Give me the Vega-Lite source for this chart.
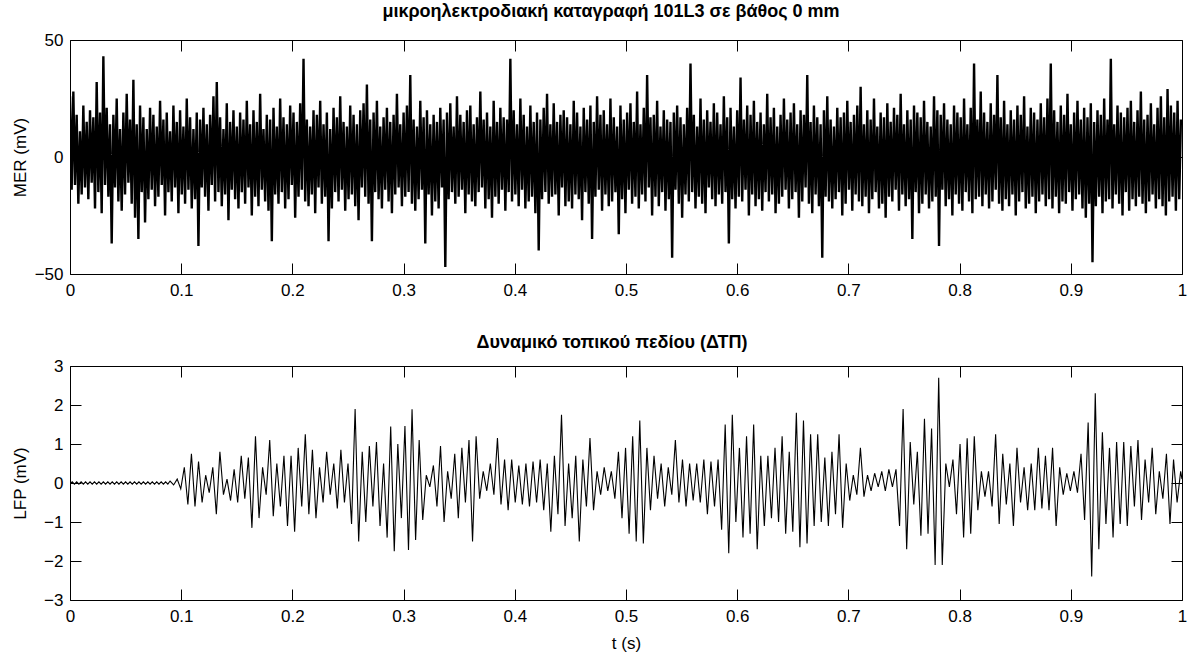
{
  "$schema": "https://vega.github.io/schema/vega-lite/v6.json",
  "background": "white",
  "padding": {"left": 10, "top": 2, "right": 0, "bottom": 0},
  "spacing": 34,
  "config": {
    "font": "Liberation Sans",
    "view": {"stroke": "black", "strokeWidth": 1},
    "axis": {"grid": false, "domain": false, "ticks": true, "tickSize": 11, "offset": -11, "zindex": 2, "tickColor": "black", "tickWidth": 1, "tickOpacity": 1, "tickCap": "butt",
      "labelColor": "black", "labelFont": "Liberation Sans", "labelFontSize": 17, "labelFlush": false, "labelOverlap": false, "labelPadding": 7,
      "titleFont": "Liberation Sans", "titleFontSize": 17, "titleFontWeight": "normal", "titleColor": "black"},
    "axisX": {"labelPadding": 8, "titlePadding": 11},
    "title": {"font": "Liberation Sans", "fontSize": 18, "fontWeight": "bold", "color": "black", "anchor": "middle"}
  },
  "datasets": {
    "mer": [
{"t":0,"v":26},{"t":1.5,"v":-14},{"t":3,"v":28},{"t":4.5,"v":-12},{"t":6,"v":18},{"t":7.5,"v":-20},{"t":9,"v":11},{"t":10.5,"v":-16},{"t":12,"v":22},{"t":13.5,"v":-13},
{"t":15,"v":15},{"t":16.5,"v":-18},{"t":18,"v":20},{"t":19.5,"v":-11},{"t":21,"v":17},{"t":22.5,"v":-22},{"t":24,"v":32},{"t":25.5,"v":-15},{"t":27,"v":19},{"t":28.5,"v":-24},
{"t":30,"v":43},{"t":31.5,"v":-12},{"t":33,"v":21},{"t":34.5,"v":-17},{"t":36,"v":14},{"t":37.5,"v":-37},{"t":39,"v":18},{"t":40.5,"v":-13},{"t":42,"v":25},{"t":43.5,"v":-19},
{"t":45,"v":12},{"t":46.5,"v":-23},{"t":48,"v":19},{"t":49.5,"v":-16},{"t":51,"v":27},{"t":52.5,"v":-11},{"t":54,"v":16},{"t":55.5,"v":-20},{"t":57,"v":33},{"t":58.5,"v":-26},
{"t":60,"v":14},{"t":61.5,"v":-35},{"t":63,"v":22},{"t":64.5,"v":-15},{"t":66,"v":17},{"t":67.5,"v":-28},{"t":69,"v":12},{"t":70.5,"v":-18},{"t":72,"v":21},{"t":73.5,"v":-14},
{"t":75,"v":18},{"t":76.5,"v":-21},{"t":78,"v":13},{"t":79.5,"v":-17},{"t":81,"v":24},{"t":82.5,"v":-12},{"t":84,"v":16},{"t":85.5,"v":-25},{"t":87,"v":19},{"t":88.5,"v":-15},
{"t":90,"v":11},{"t":91.5,"v":-19},{"t":93,"v":22},{"t":94.5,"v":-13},{"t":96,"v":15},{"t":97.5,"v":-24},{"t":99,"v":20},{"t":100.5,"v":-16},{"t":102,"v":13},{"t":103.5,"v":-20},
{"t":105,"v":25},{"t":106.5,"v":-14},{"t":108,"v":17},{"t":109.5,"v":-22},{"t":111,"v":12},{"t":112.5,"v":-18},{"t":114,"v":19},{"t":115.5,"v":-38},{"t":117,"v":16},{"t":118.5,"v":-13},
{"t":120,"v":21},{"t":121.5,"v":-17},{"t":123,"v":14},{"t":124.5,"v":-23},{"t":126,"v":18},{"t":127.5,"v":-12},{"t":129,"v":26},{"t":130.5,"v":-19},{"t":132,"v":32},{"t":133.5,"v":-15},
{"t":135,"v":17},{"t":136.5,"v":-21},{"t":138,"v":12},{"t":139.5,"v":-16},{"t":141,"v":23},{"t":142.5,"v":-27},{"t":144,"v":15},{"t":145.5,"v":-14},{"t":147,"v":20},{"t":148.5,"v":-18},
{"t":150,"v":13},{"t":151.5,"v":-22},{"t":153,"v":19},{"t":154.5,"v":-15},{"t":156,"v":16},{"t":157.5,"v":-20},{"t":159,"v":24},{"t":160.5,"v":-13},{"t":162,"v":14},{"t":163.5,"v":-25},
{"t":165,"v":20},{"t":166.5,"v":-17},{"t":168,"v":15},{"t":169.5,"v":-21},{"t":171,"v":27},{"t":172.5,"v":-14},{"t":174,"v":12},{"t":175.5,"v":-19},{"t":177,"v":18},{"t":178.5,"v":-23},
{"t":180,"v":16},{"t":181.5,"v":-36},{"t":183,"v":21},{"t":184.5,"v":-16},{"t":186,"v":13},{"t":187.5,"v":-20},{"t":189,"v":25},{"t":190.5,"v":-15},{"t":192,"v":17},{"t":193.5,"v":-22},
{"t":195,"v":14},{"t":196.5,"v":-18},{"t":198,"v":22},{"t":199.5,"v":-12},{"t":201,"v":19},{"t":202.5,"v":-26},{"t":204,"v":15},{"t":205.5,"v":-17},{"t":207,"v":23},{"t":208.5,"v":-14},
{"t":210,"v":42},{"t":211.5,"v":-19},{"t":213,"v":16},{"t":214.5,"v":-21},{"t":216,"v":13},{"t":217.5,"v":-16},{"t":219,"v":20},{"t":220.5,"v":-24},{"t":222,"v":18},{"t":223.5,"v":-13},
{"t":225,"v":24},{"t":226.5,"v":-20},{"t":228,"v":14},{"t":229.5,"v":-17},{"t":231,"v":19},{"t":232.5,"v":-36},{"t":234,"v":12},{"t":235.5,"v":-22},{"t":237,"v":21},{"t":238.5,"v":-15},
{"t":240,"v":17},{"t":241.5,"v":-19},{"t":243,"v":26},{"t":244.5,"v":-14},{"t":246,"v":15},{"t":247.5,"v":-23},{"t":249,"v":13},{"t":250.5,"v":-18},{"t":252,"v":22},{"t":253.5,"v":-16},
{"t":255,"v":18},{"t":256.5,"v":-21},{"t":258,"v":14},{"t":259.5,"v":-27},{"t":261,"v":20},{"t":262.5,"v":-13},{"t":264,"v":23},{"t":265.5,"v":-17},{"t":267,"v":31},{"t":268.5,"v":-20},
{"t":270,"v":16},{"t":271.5,"v":-36},{"t":273,"v":19},{"t":274.5,"v":-15},{"t":276,"v":24},{"t":277.5,"v":-18},{"t":279,"v":13},{"t":280.5,"v":-22},{"t":282,"v":17},{"t":283.5,"v":-14},
{"t":285,"v":21},{"t":286.5,"v":-19},{"t":288,"v":15},{"t":289.5,"v":-24},{"t":291,"v":18},{"t":292.5,"v":-16},{"t":294,"v":27},{"t":295.5,"v":-13},{"t":297,"v":14},{"t":298.5,"v":-21},
{"t":300,"v":19},{"t":301.5,"v":-17},{"t":303,"v":22},{"t":304.5,"v":-15},{"t":306,"v":35},{"t":307.5,"v":-20},{"t":309,"v":16},{"t":310.5,"v":-23},{"t":312,"v":13},{"t":313.5,"v":-18},
{"t":315,"v":24},{"t":316.5,"v":-14},{"t":318,"v":17},{"t":319.5,"v":-37},{"t":321,"v":20},{"t":322.5,"v":-16},{"t":324,"v":14},{"t":325.5,"v":-25},{"t":327,"v":18},{"t":328.5,"v":-19},
{"t":330,"v":15},{"t":331.5,"v":-22},{"t":333,"v":21},{"t":334.5,"v":-13},{"t":336,"v":16},{"t":337.5,"v":-47},{"t":339,"v":19},{"t":340.5,"v":-18},{"t":342,"v":23},{"t":343.5,"v":-15},
{"t":345,"v":13},{"t":346.5,"v":-20},{"t":348,"v":26},{"t":349.5,"v":-17},{"t":351,"v":18},{"t":352.5,"v":-14},{"t":354,"v":15},{"t":355.5,"v":-24},{"t":357,"v":20},{"t":358.5,"v":-16},
{"t":360,"v":22},{"t":361.5,"v":-19},{"t":363,"v":14},{"t":364.5,"v":-21},{"t":366,"v":17},{"t":367.5,"v":-15},{"t":369,"v":28},{"t":370.5,"v":-13},{"t":372,"v":16},{"t":373.5,"v":-22},
{"t":375,"v":19},{"t":376.5,"v":-18},{"t":378,"v":13},{"t":379.5,"v":-26},{"t":381,"v":24},{"t":382.5,"v":-17},{"t":384,"v":15},{"t":385.5,"v":-20},{"t":387,"v":21},{"t":388.5,"v":-14},
{"t":390,"v":17},{"t":391.5,"v":-23},{"t":393,"v":16},{"t":394.5,"v":-15},{"t":396,"v":42},{"t":397.5,"v":-19},{"t":399,"v":20},{"t":400.5,"v":-16},{"t":402,"v":14},{"t":403.5,"v":-21},
{"t":405,"v":25},{"t":406.5,"v":-14},{"t":408,"v":18},{"t":409.5,"v":-22},{"t":411,"v":13},{"t":412.5,"v":-19},{"t":414,"v":22},{"t":415.5,"v":-17},{"t":417,"v":15},{"t":418.5,"v":-24},
{"t":420,"v":19},{"t":421.5,"v":-40},{"t":423,"v":16},{"t":424.5,"v":-18},{"t":426,"v":21},{"t":427.5,"v":-15},{"t":429,"v":27},{"t":430.5,"v":-20},{"t":432,"v":14},{"t":433.5,"v":-17},
{"t":435,"v":23},{"t":436.5,"v":-16},{"t":438,"v":15},{"t":439.5,"v":-25},{"t":441,"v":18},{"t":442.5,"v":-13},{"t":444,"v":20},{"t":445.5,"v":-21},{"t":447,"v":17},{"t":448.5,"v":-19},
{"t":450,"v":14},{"t":451.5,"v":-22},{"t":453,"v":24},{"t":454.5,"v":-16},{"t":456,"v":19},{"t":457.5,"v":-18},{"t":459,"v":13},{"t":460.5,"v":-27},{"t":462,"v":21},{"t":463.5,"v":-15},
{"t":465,"v":16},{"t":466.5,"v":-20},{"t":468,"v":22},{"t":469.5,"v":-35},{"t":471,"v":15},{"t":472.5,"v":-17},{"t":474,"v":26},{"t":475.5,"v":-14},{"t":477,"v":18},{"t":478.5,"v":-23},
{"t":480,"v":20},{"t":481.5,"v":-16},{"t":483,"v":14},{"t":484.5,"v":-21},{"t":486,"v":25},{"t":487.5,"v":-19},{"t":489,"v":17},{"t":490.5,"v":-15},{"t":492,"v":13},{"t":493.5,"v":-33},
{"t":495,"v":22},{"t":496.5,"v":-18},{"t":498,"v":16},{"t":499.5,"v":-24},{"t":501,"v":19},{"t":502.5,"v":-14},{"t":504,"v":23},{"t":505.5,"v":-20},{"t":507,"v":15},{"t":508.5,"v":-17},
{"t":510,"v":28},{"t":511.5,"v":-22},{"t":513,"v":14},{"t":514.5,"v":-16},{"t":516,"v":21},{"t":517.5,"v":-19},{"t":519,"v":35},{"t":520.5,"v":-13},{"t":522,"v":17},{"t":523.5,"v":-25},
{"t":525,"v":18},{"t":526.5,"v":-17},{"t":528,"v":24},{"t":529.5,"v":-21},{"t":531,"v":13},{"t":532.5,"v":-15},{"t":534,"v":20},{"t":535.5,"v":-23},{"t":537,"v":16},{"t":538.5,"v":-18},
{"t":540,"v":15},{"t":541.5,"v":-43},{"t":543,"v":19},{"t":544.5,"v":-14},{"t":546,"v":22},{"t":547.5,"v":-20},{"t":549,"v":17},{"t":550.5,"v":-26},{"t":552,"v":14},{"t":553.5,"v":-16},
{"t":555,"v":21},{"t":556.5,"v":-19},{"t":558,"v":40},{"t":559.5,"v":-15},{"t":561,"v":18},{"t":562.5,"v":-22},{"t":564,"v":13},{"t":565.5,"v":-17},{"t":567,"v":25},{"t":568.5,"v":-20},
{"t":570,"v":16},{"t":571.5,"v":-24},{"t":573,"v":20},{"t":574.5,"v":-13},{"t":576,"v":15},{"t":577.5,"v":-18},{"t":579,"v":23},{"t":580.5,"v":-21},{"t":582,"v":19},{"t":583.5,"v":-16},
{"t":585,"v":14},{"t":586.5,"v":-20},{"t":588,"v":26},{"t":589.5,"v":-15},{"t":591,"v":17},{"t":592.5,"v":-37},{"t":594,"v":21},{"t":595.5,"v":-18},{"t":597,"v":13},{"t":598.5,"v":-22},
{"t":600,"v":20},{"t":601.5,"v":-17},{"t":603,"v":34},{"t":604.5,"v":-19},{"t":606,"v":16},{"t":607.5,"v":-14},{"t":609,"v":22},{"t":610.5,"v":-25},{"t":612,"v":18},{"t":613.5,"v":-16},
{"t":615,"v":24},{"t":616.5,"v":-21},{"t":618,"v":15},{"t":619.5,"v":-18},{"t":621,"v":19},{"t":622.5,"v":-23},{"t":624,"v":14},{"t":625.5,"v":-15},{"t":627,"v":27},{"t":628.5,"v":-19},
{"t":630,"v":17},{"t":631.5,"v":-16},{"t":633,"v":21},{"t":634.5,"v":-24},{"t":636,"v":13},{"t":637.5,"v":-20},{"t":639,"v":18},{"t":640.5,"v":-17},{"t":642,"v":25},{"t":643.5,"v":-14},
{"t":645,"v":16},{"t":646.5,"v":-22},{"t":648,"v":19},{"t":649.5,"v":-18},{"t":651,"v":23},{"t":652.5,"v":-15},{"t":654,"v":14},{"t":655.5,"v":-26},{"t":657,"v":20},{"t":658.5,"v":-19},
{"t":660,"v":18},{"t":661.5,"v":-13},{"t":663,"v":35},{"t":664.5,"v":-20},{"t":666,"v":15},{"t":667.5,"v":-24},{"t":669,"v":22},{"t":670.5,"v":-16},{"t":672,"v":17},{"t":673.5,"v":-21},
{"t":675,"v":14},{"t":676.5,"v":-43},{"t":678,"v":20},{"t":679.5,"v":-17},{"t":681,"v":26},{"t":682.5,"v":-19},{"t":684,"v":16},{"t":685.5,"v":-22},{"t":687,"v":13},{"t":688.5,"v":-18},
{"t":690,"v":21},{"t":691.5,"v":-15},{"t":693,"v":17},{"t":694.5,"v":-25},{"t":696,"v":19},{"t":697.5,"v":-20},{"t":699,"v":24},{"t":700.5,"v":-14},{"t":702,"v":15},{"t":703.5,"v":-23},
{"t":705,"v":18},{"t":706.5,"v":-16},{"t":708,"v":22},{"t":709.5,"v":-19},{"t":711,"v":30},{"t":712.5,"v":-21},{"t":714,"v":14},{"t":715.5,"v":-17},{"t":717,"v":20},{"t":718.5,"v":-24},
{"t":720,"v":16},{"t":721.5,"v":-18},{"t":723,"v":25},{"t":724.5,"v":-15},{"t":726,"v":13},{"t":727.5,"v":-22},{"t":729,"v":19},{"t":730.5,"v":-20},{"t":732,"v":17},{"t":733.5,"v":-26},
{"t":735,"v":23},{"t":736.5,"v":-17},{"t":738,"v":15},{"t":739.5,"v":-19},{"t":741,"v":21},{"t":742.5,"v":-14},{"t":744,"v":18},{"t":745.5,"v":-23},{"t":747,"v":27},{"t":748.5,"v":-16},
{"t":750,"v":14},{"t":751.5,"v":-21},{"t":753,"v":20},{"t":754.5,"v":-18},{"t":756,"v":16},{"t":757.5,"v":-35},{"t":759,"v":22},{"t":760.5,"v":-15},{"t":762,"v":19},{"t":763.5,"v":-24},
{"t":765,"v":17},{"t":766.5,"v":-20},{"t":768,"v":24},{"t":769.5,"v":-16},{"t":771,"v":15},{"t":772.5,"v":-22},{"t":774,"v":13},{"t":775.5,"v":-19},{"t":777,"v":26},{"t":778.5,"v":-17},
{"t":780,"v":20},{"t":781.5,"v":-38},{"t":783,"v":18},{"t":784.5,"v":-14},{"t":786,"v":23},{"t":787.5,"v":-21},{"t":789,"v":16},{"t":790.5,"v":-18},{"t":792,"v":14},{"t":793.5,"v":-25},
{"t":795,"v":22},{"t":796.5,"v":-16},{"t":798,"v":19},{"t":799.5,"v":-20},{"t":801,"v":17},{"t":802.5,"v":-23},{"t":804,"v":25},{"t":805.5,"v":-15},{"t":807,"v":14},{"t":808.5,"v":-19},
{"t":810,"v":21},{"t":811.5,"v":-24},{"t":813,"v":40},{"t":814.5,"v":-18},{"t":816,"v":16},{"t":817.5,"v":-17},{"t":819,"v":28},{"t":820.5,"v":-21},{"t":822,"v":19},{"t":823.5,"v":-16},
{"t":825,"v":15},{"t":826.5,"v":-22},{"t":828,"v":23},{"t":829.5,"v":-19},{"t":831,"v":18},{"t":832.5,"v":-14},{"t":834,"v":35},{"t":835.5,"v":-20},{"t":837,"v":17},{"t":838.5,"v":-23},
{"t":840,"v":24},{"t":841.5,"v":-18},{"t":843,"v":14},{"t":844.5,"v":-21},{"t":846,"v":20},{"t":847.5,"v":-16},{"t":849,"v":16},{"t":850.5,"v":-25},{"t":852,"v":22},{"t":853.5,"v":-19},
{"t":855,"v":18},{"t":856.5,"v":-15},{"t":858,"v":26},{"t":859.5,"v":-22},{"t":861,"v":13},{"t":862.5,"v":-20},{"t":864,"v":21},{"t":865.5,"v":-17},{"t":867,"v":19},{"t":868.5,"v":-24},
{"t":870,"v":16},{"t":871.5,"v":-19},{"t":873,"v":23},{"t":874.5,"v":-16},{"t":876,"v":17},{"t":877.5,"v":-21},{"t":879,"v":25},{"t":880.5,"v":-18},{"t":882,"v":40},{"t":883.5,"v":-22},
{"t":885,"v":20},{"t":886.5,"v":-17},{"t":888,"v":15},{"t":889.5,"v":-24},{"t":891,"v":22},{"t":892.5,"v":-19},{"t":894,"v":18},{"t":895.5,"v":-20},{"t":897,"v":27},{"t":898.5,"v":-15},
{"t":900,"v":14},{"t":901.5,"v":-23},{"t":903,"v":19},{"t":904.5,"v":-18},{"t":906,"v":24},{"t":907.5,"v":-16},{"t":909,"v":16},{"t":910.5,"v":-22},{"t":912,"v":21},{"t":913.5,"v":-26},
{"t":915,"v":17},{"t":916.5,"v":-20},{"t":918,"v":23},{"t":919.5,"v":-45},{"t":921,"v":15},{"t":922.5,"v":-21},{"t":924,"v":20},{"t":925.5,"v":-17},{"t":927,"v":18},{"t":928.5,"v":-24},
{"t":930,"v":25},{"t":931.5,"v":-19},{"t":933,"v":16},{"t":934.5,"v":-18},{"t":936,"v":42},{"t":937.5,"v":-22},{"t":939,"v":14},{"t":940.5,"v":-16},{"t":942,"v":22},{"t":943.5,"v":-20},
{"t":945,"v":19},{"t":946.5,"v":-25},{"t":948,"v":17},{"t":949.5,"v":-15},{"t":951,"v":21},{"t":952.5,"v":-23},{"t":954,"v":24},{"t":955.5,"v":-18},{"t":957,"v":15},{"t":958.5,"v":-21},
{"t":960,"v":20},{"t":961.5,"v":-17},{"t":963,"v":28},{"t":964.5,"v":-20},{"t":966,"v":16},{"t":967.5,"v":-24},{"t":969,"v":18},{"t":970.5,"v":-19},{"t":972,"v":23},{"t":973.5,"v":-16},
{"t":975,"v":14},{"t":976.5,"v":-22},{"t":978,"v":21},{"t":979.5,"v":-18},{"t":981,"v":26},{"t":982.5,"v":-21},{"t":984,"v":17},{"t":985.5,"v":-25},{"t":987,"v":29},{"t":988.5,"v":-19},
{"t":990,"v":22},{"t":991.5,"v":-17},{"t":993,"v":19},{"t":994.5,"v":-23},{"t":996,"v":24},{"t":997.5,"v":-18},{"t":999,"v":16}
    ],
    "lfp": [
{"t":0,"v":-0.02},{"t":2,"v":0.03},{"t":4,"v":-0.03},{"t":6,"v":0.03},{"t":8,"v":-0.03},{"t":10,"v":0.03},{"t":12,"v":-0.03},{"t":14,"v":0.03},{"t":16,"v":-0.03},{"t":18,"v":0.03},
{"t":20,"v":-0.03},{"t":22,"v":0.03},{"t":24,"v":-0.03},{"t":26,"v":0.03},{"t":28,"v":-0.03},{"t":30,"v":0.03},{"t":32,"v":-0.03},{"t":34,"v":0.03},{"t":36,"v":-0.03},{"t":38,"v":0.03},
{"t":40,"v":-0.03},{"t":42,"v":0.03},{"t":44,"v":-0.03},{"t":46,"v":0.03},{"t":48,"v":-0.03},{"t":50,"v":0.03},{"t":52,"v":-0.03},{"t":54,"v":0.03},{"t":56,"v":-0.03},{"t":58,"v":0.03},
{"t":60,"v":-0.03},{"t":62,"v":0.03},{"t":64,"v":-0.03},{"t":66,"v":0.03},{"t":68,"v":-0.03},{"t":70,"v":0.03},{"t":72,"v":-0.03},{"t":74,"v":0.03},{"t":76,"v":-0.03},{"t":78,"v":0.03},
{"t":80,"v":-0.03},{"t":82,"v":0.03},{"t":84,"v":-0.03},{"t":86,"v":0.03},{"t":88,"v":-0.03},
{"t":90,"v":0.05},{"t":93.2,"v":-0.05},{"t":96.4,"v":0.1},{"t":99.6,"v":-0.15},{"t":102.8,"v":0.4},
{"t":106,"v":-0.55},{"t":109.2,"v":0.75},{"t":112.4,"v":-0.6},{"t":115.6,"v":0.55},{"t":118.8,"v":-0.5},
{"t":122,"v":0.2},{"t":125.2,"v":-0.25},{"t":128.4,"v":0.4},{"t":131.6,"v":-0.8},{"t":134.8,"v":0.8},
{"t":138,"v":-0.3},{"t":141.2,"v":0.1},{"t":144.4,"v":-0.45},{"t":147.6,"v":0.35},{"t":150.8,"v":-0.5},
{"t":154,"v":0.7},{"t":157.2,"v":-0.4},{"t":160.4,"v":0.65},{"t":163.6,"v":-1.15},{"t":166.8,"v":1.2},
{"t":170,"v":-0.9},{"t":173.2,"v":0.4},{"t":176.4,"v":-0.3},{"t":179.6,"v":1.1},{"t":182.8,"v":-0.85},
{"t":186,"v":0.5},{"t":189.2,"v":-0.6},{"t":192.4,"v":0.7},{"t":195.6,"v":-1.1},{"t":198.8,"v":0.7},
{"t":202,"v":-1.25},{"t":205.2,"v":0.9},{"t":208.4,"v":-0.6},{"t":211.6,"v":1.25},{"t":214.8,"v":-0.8},
{"t":218,"v":0.85},{"t":221.2,"v":-0.9},{"t":224.4,"v":0.4},{"t":227.6,"v":-0.5},{"t":230.8,"v":0.8},
{"t":234,"v":-0.3},{"t":237.2,"v":0.5},{"t":240.4,"v":-0.65},{"t":243.6,"v":0.85},{"t":246.8,"v":-0.5},
{"t":250,"v":0.5},{"t":253.2,"v":-1.05},{"t":256.4,"v":1.9},{"t":259.6,"v":-1.5},{"t":262.8,"v":0.8},
{"t":266,"v":-1.0},{"t":269.2,"v":0.95},{"t":272.4,"v":-0.6},{"t":275.6,"v":1.05},{"t":278.8,"v":-1.1},
{"t":282,"v":0.5},{"t":285.2,"v":-1.4},{"t":288.4,"v":1.45},{"t":291.6,"v":-1.75},{"t":294.8,"v":1.0},
{"t":298,"v":-0.9},{"t":301.2,"v":1.46},{"t":304.4,"v":-1.72},{"t":307.6,"v":1.89},{"t":310.8,"v":-1.46},
{"t":314,"v":1.1},{"t":317.2,"v":-0.95},{"t":320.4,"v":0.2},{"t":323.6,"v":-0.1},{"t":326.8,"v":0.45},
{"t":330,"v":-0.6},{"t":333.2,"v":0.95},{"t":336.4,"v":-1.0},{"t":339.6,"v":0.3},{"t":342.8,"v":-0.4},
{"t":346,"v":0.75},{"t":349.2,"v":-0.9},{"t":352.4,"v":0.9},{"t":355.6,"v":-0.5},{"t":358.8,"v":1.1},
{"t":362,"v":-1.5},{"t":365.2,"v":1.2},{"t":368.4,"v":-0.4},{"t":371.6,"v":0.3},{"t":374.8,"v":-0.2},
{"t":378,"v":0.5},{"t":381.2,"v":-0.3},{"t":384.4,"v":1.15},{"t":387.6,"v":-0.55},{"t":390.8,"v":0.6},
{"t":394,"v":-0.7},{"t":397.2,"v":0.6},{"t":400.4,"v":-0.5},{"t":403.6,"v":0.45},{"t":406.8,"v":-0.55},
{"t":410,"v":0.5},{"t":413.2,"v":-0.6},{"t":416.4,"v":0.55},{"t":419.6,"v":-0.5},{"t":422.8,"v":0.6},
{"t":426,"v":-0.7},{"t":429.2,"v":0.5},{"t":432.4,"v":-1.25},{"t":435.6,"v":0.7},{"t":438.8,"v":-0.8},
{"t":442,"v":1.75},{"t":445.2,"v":-1.1},{"t":448.4,"v":0.5},{"t":451.6,"v":-0.9},{"t":454.8,"v":0.7},
{"t":458,"v":-1.5},{"t":461.2,"v":0.6},{"t":464.4,"v":-0.6},{"t":467.6,"v":1.15},{"t":470.8,"v":-0.7},
{"t":474,"v":0.3},{"t":477.2,"v":-0.3},{"t":480.4,"v":0.4},{"t":483.6,"v":-0.2},{"t":486.8,"v":0.3},
{"t":490,"v":-0.4},{"t":493.2,"v":0.8},{"t":496.4,"v":-0.9},{"t":499.6,"v":0.9},{"t":502.8,"v":-1.3},
{"t":506,"v":1.2},{"t":509.2,"v":-1.5},{"t":512.4,"v":1.6},{"t":515.6,"v":-1.55},{"t":518.8,"v":0.9},
{"t":522,"v":-0.7},{"t":525.2,"v":0.7},{"t":528.4,"v":-0.4},{"t":531.6,"v":0.5},{"t":534.8,"v":-0.6},
{"t":538,"v":0.4},{"t":541.2,"v":-0.3},{"t":544.4,"v":1.1},{"t":547.6,"v":-0.5},{"t":550.8,"v":0.6},
{"t":554,"v":-0.6},{"t":557.2,"v":0.5},{"t":560.4,"v":-0.45},{"t":563.6,"v":0.5},{"t":566.8,"v":-0.5},
{"t":570,"v":0.6},{"t":573.2,"v":-0.8},{"t":576.4,"v":0.55},{"t":579.6,"v":-0.6},{"t":582.8,"v":0.6},
{"t":586,"v":-1.2},{"t":589.2,"v":1.5},{"t":592.4,"v":-1.8},{"t":595.6,"v":1.75},{"t":598.8,"v":-1.0},
{"t":602,"v":0.9},{"t":605.2,"v":-1.4},{"t":608.4,"v":1.2},{"t":611.6,"v":-1.3},{"t":614.8,"v":1.5},
{"t":618,"v":-1.7},{"t":621.2,"v":0.7},{"t":624.4,"v":-1.1},{"t":627.6,"v":0.7},{"t":630.8,"v":-0.9},
{"t":634,"v":0.9},{"t":637.2,"v":-1.0},{"t":640.4,"v":1.2},{"t":643.6,"v":-1.3},{"t":646.8,"v":0.8},
{"t":650,"v":-1.25},{"t":653.2,"v":1.8},{"t":656.4,"v":-1.65},{"t":659.6,"v":1.6},{"t":662.8,"v":-1.55},
{"t":666,"v":1.25},{"t":669.2,"v":-1.1},{"t":672.4,"v":1.25},{"t":675.6,"v":-1.0},{"t":678.8,"v":0.65},
{"t":682,"v":-1.1},{"t":685.2,"v":0.8},{"t":688.4,"v":-0.8},{"t":691.6,"v":1.25},{"t":694.8,"v":-1.15},
{"t":698,"v":0.5},{"t":701.2,"v":-0.45},{"t":704.4,"v":0.2},{"t":707.6,"v":-0.3},{"t":710.8,"v":0.9},
{"t":714,"v":-0.35},{"t":717.2,"v":0.2},{"t":720.4,"v":-0.2},{"t":723.6,"v":0.25},{"t":726.8,"v":-0.1},
{"t":730,"v":0.3},{"t":733.2,"v":-0.2},{"t":736.4,"v":0.35},{"t":739.6,"v":-0.1},{"t":742.8,"v":0.35},
{"t":746,"v":-1.1},{"t":749.2,"v":1.9},{"t":752.4,"v":-1.7},{"t":755.6,"v":1.05},{"t":758.8,"v":-0.55},
{"t":762,"v":0.8},{"t":765.2,"v":-1.35},{"t":768.4,"v":1.65},{"t":771.6,"v":-1.3},{"t":774.8,"v":1.4},
{"t":778,"v":-2.1},{"t":781.2,"v":2.7},{"t":784.4,"v":-2.1},{"t":787.6,"v":0.5},{"t":790.8,"v":-0.1},
{"t":794,"v":0.6},{"t":797.2,"v":-0.8},{"t":800.4,"v":1.0},{"t":803.6,"v":-1.4},{"t":806.8,"v":1.15},
{"t":810,"v":-1.3},{"t":813.2,"v":1.2},{"t":816.4,"v":-0.7},{"t":819.6,"v":0.3},{"t":822.8,"v":-0.35},
{"t":826,"v":0.3},{"t":829.2,"v":-0.6},{"t":832.4,"v":1.25},{"t":835.6,"v":-1.05},{"t":838.8,"v":0.75},
{"t":842,"v":-0.55},{"t":845.2,"v":0.5},{"t":848.4,"v":-1.1},{"t":851.6,"v":0.9},{"t":854.8,"v":-0.5},
{"t":858,"v":0.4},{"t":861.2,"v":-0.7},{"t":864.4,"v":0.5},{"t":867.6,"v":-0.7},{"t":870.8,"v":0.9},
{"t":874,"v":-0.65},{"t":877.2,"v":0.7},{"t":880.4,"v":-0.7},{"t":883.6,"v":0.9},{"t":886.8,"v":-1.1},
{"t":890,"v":0.4},{"t":893.2,"v":-0.3},{"t":896.4,"v":0.25},{"t":899.6,"v":-0.2},{"t":902.8,"v":0.3},
{"t":906,"v":-0.25},{"t":909.2,"v":0.75},{"t":912.4,"v":-0.95},{"t":915.6,"v":1.55},{"t":918.8,"v":-2.4},
{"t":922,"v":2.3},{"t":925.2,"v":-1.7},{"t":928.4,"v":1.3},{"t":931.6,"v":-1.05},{"t":934.8,"v":0.9},
{"t":938,"v":-1.4},{"t":941.2,"v":1.05},{"t":944.4,"v":-1.05},{"t":947.6,"v":1.05},{"t":950.8,"v":-1.1},
{"t":954,"v":0.95},{"t":957.2,"v":-0.6},{"t":960.4,"v":1.1},{"t":963.6,"v":-0.95},{"t":966.8,"v":0.6},
{"t":970,"v":-0.5},{"t":973.2,"v":0.9},{"t":976.4,"v":-0.8},{"t":979.6,"v":0.3},{"t":982.8,"v":-0.4},
{"t":986,"v":0.75},{"t":989.2,"v":-1.05},{"t":992.4,"v":0.6},{"t":995.6,"v":-0.5},{"t":998.8,"v":0.3},
{"t":1000,"v":0.1}
    ]
  },
  "vconcat": [
    {
      "width": 1112, "height": 234,
      "title": {"text": "μικροηλεκτροδιακή καταγραφή 101L3 σε βάθος 0 mm", "dx": -15, "offset": 10},
      "data": {"name": "mer"},
      "layer": [
        {
          "mark": {"type": "line", "color": "black", "strokeWidth": 2.4, "clip": true},
          "encoding": {
            "x": {"field": "t", "type": "quantitative", "scale": {"domain": [0, 1000], "nice": false, "zero": false},
              "axis": {"orient": "bottom", "title": null, "values": [0,100,200,300,400,500,600,700,800,900,1000], "labelExpr": "format(datum.value/1000, '~g')"}},
            "y": {"field": "v", "type": "quantitative", "scale": {"domain": [-50, 50], "nice": false, "zero": false},
              "axis": {"orient": "left", "title": "MER (mV)", "values": [-50, 0, 50], "titleX": -56, "titleBaseline": "alphabetic"}}
          }
        },
        {
          "mark": {"type": "line", "opacity": 0},
          "encoding": {
            "x": {"field": "t", "type": "quantitative", "axis": {"orient": "top", "title": null, "labels": false, "values": [0,100,200,300,400,500,600,700,800,900,1000]}},
            "y": {"field": "v", "type": "quantitative", "axis": {"orient": "right", "title": null, "labels": false, "values": [-50, 0, 50]}}
          }
        }
      ],
      "resolve": {"axis": {"x": "independent", "y": "independent"}}
    },
    {
      "width": 1112, "height": 234,
      "title": {"text": "Δυναμικό τοπικού πεδίου (ΔΤΠ)", "dx": -14, "offset": 5},
      "data": {"name": "lfp"},
      "layer": [
        {
          "mark": {"type": "line", "color": "black", "strokeWidth": 1.1, "clip": true},
          "encoding": {
            "x": {"field": "t", "type": "quantitative", "scale": {"domain": [0, 1000], "nice": false, "zero": false},
              "axis": {"orient": "bottom", "title": "t (s)", "values": [0,100,200,300,400,500,600,700,800,900,1000], "labelExpr": "format(datum.value/1000, '~g')"}},
            "y": {"field": "v", "type": "quantitative", "scale": {"domain": [-3, 3], "nice": false, "zero": false},
              "axis": {"orient": "left", "title": "LFP (mV)", "values": [-3, -2, -1, 0, 1, 2, 3], "titleX": -56, "titleBaseline": "alphabetic"}}
          }
        },
        {
          "mark": {"type": "line", "opacity": 0},
          "encoding": {
            "x": {"field": "t", "type": "quantitative", "axis": {"orient": "top", "title": null, "labels": false, "values": [0,100,200,300,400,500,600,700,800,900,1000]}},
            "y": {"field": "v", "type": "quantitative", "axis": {"orient": "right", "title": null, "labels": false, "values": [-3, -2, -1, 0, 1, 2, 3]}}
          }
        }
      ],
      "resolve": {"axis": {"x": "independent", "y": "independent"}}
    }
  ]
}
